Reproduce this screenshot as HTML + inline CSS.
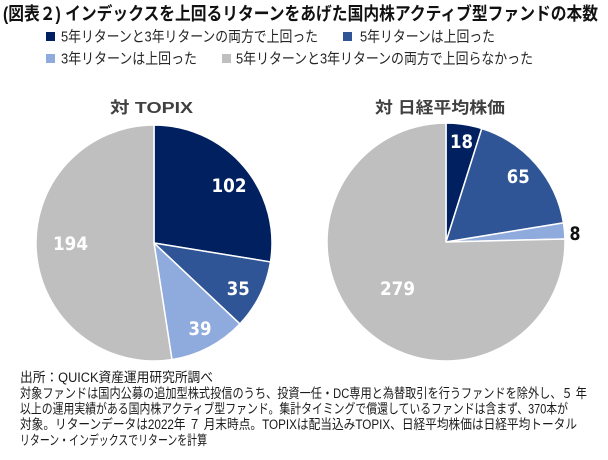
<!DOCTYPE html>
<html>
<head>
<meta charset="utf-8">
<style>
  html, body { margin:0; padding:0; background:#ffffff; }
  body { width:608px; height:460px; overflow:hidden; }
  svg { display:block; }
  .jp { font-family: "Liberation Sans", "Noto Sans CJK JP", sans-serif; }
</style>
</head>
<body>
<svg width="608" height="460" viewBox="0 0 608 460" xmlns="http://www.w3.org/2000/svg">
  <rect x="0" y="0" width="608" height="460" fill="#ffffff"/>

  <!-- Title -->
  <text class="jp" x="3" y="20" font-size="18" font-weight="bold" fill="#111111" textLength="595" lengthAdjust="spacingAndGlyphs">(図表２) インデックスを上回るリターンをあげた国内株アクティブ型ファンドの本数</text>

  <!-- Legend -->
  <rect x="46" y="32" width="9" height="9" fill="#002060"/>
  <text class="jp" x="61" y="41.5" font-size="15" fill="#262626" textLength="257" lengthAdjust="spacingAndGlyphs">5年リターンと3年リターンの両方で上回った</text>
  <rect x="343" y="32" width="9" height="9" fill="#2F5597"/>
  <text class="jp" x="360" y="41.5" font-size="15" fill="#262626" textLength="135" lengthAdjust="spacingAndGlyphs">5年リターンは上回った</text>

  <rect x="46" y="54" width="9" height="9" fill="#8FAADC"/>
  <text class="jp" x="61" y="63.5" font-size="15" fill="#262626" textLength="136" lengthAdjust="spacingAndGlyphs">3年リターンは上回った</text>
  <rect x="222" y="54" width="9" height="9" fill="#BFBFBF"/>
  <text class="jp" x="236" y="63.5" font-size="15" fill="#262626" textLength="297" lengthAdjust="spacingAndGlyphs">5年リターンと3年リターンの両方で上回らなかった</text>

  <!-- Subtitles -->
  <text class="jp" x="110" y="113" font-size="16" font-weight="bold" fill="#404040" textLength="83" lengthAdjust="spacingAndGlyphs">対 TOPIX</text>
  <text class="jp" x="375" y="113" font-size="16" font-weight="bold" fill="#404040" textLength="130" lengthAdjust="spacingAndGlyphs">対 日経平均株価</text>

  <!-- Left pie -->
  <g stroke="#ffffff" stroke-width="1.5" stroke-linejoin="round">
    <path d="M154,243 L154,125 A118,118 0 0 1 270.47,261.94 Z" fill="#002060"/>
    <path d="M154,243 L270.47,261.94 A118,118 0 0 1 239.88,323.93 Z" fill="#2F5597"/>
    <path d="M154,243 L239.88,323.93 A118,118 0 0 1 171.97,359.62 Z" fill="#8FAADC"/>
    <path d="M154,243 L171.97,359.62 A118,118 0 1 1 154,125 Z" fill="#BFBFBF"/>
  </g>

  <!-- Right pie -->
  <g stroke="#ffffff" stroke-width="1.5" stroke-linejoin="round">
    <path d="M446,242 L446,123 A119,119 0 0 1 481.80,128.51 Z" fill="#002060"/>
    <path d="M446,242 L481.80,128.51 A119,119 0 0 1 563.46,222.89 Z" fill="#2F5597"/>
    <path d="M446,242 L563.46,222.89 A119,119 0 0 1 564.96,238.97 Z" fill="#8FAADC"/>
    <path d="M446,242 L564.96,238.97 A119,119 0 1 1 446,123 Z" fill="#BFBFBF"/>
  </g>

  <!-- Data labels -->
  <g font-family="'DejaVu Sans', 'Liberation Sans', sans-serif" font-weight="bold" font-size="19" text-anchor="middle">
    <text x="229" y="192" fill="#ffffff" textLength="35" lengthAdjust="spacingAndGlyphs">102</text>
    <text x="238.3" y="295" fill="#ffffff" textLength="23" lengthAdjust="spacingAndGlyphs">35</text>
    <text x="200" y="335" fill="#ffffff" textLength="23" lengthAdjust="spacingAndGlyphs">39</text>
    <text x="70.5" y="250" fill="#ffffff" textLength="35" lengthAdjust="spacingAndGlyphs">194</text>

    <text x="461.5" y="148" fill="#ffffff" textLength="23" lengthAdjust="spacingAndGlyphs">18</text>
    <text x="518.3" y="183" fill="#ffffff" textLength="23" lengthAdjust="spacingAndGlyphs">65</text>
    <text x="575" y="240" fill="#111111" textLength="11" lengthAdjust="spacingAndGlyphs">8</text>
    <text x="397.5" y="295" fill="#ffffff" textLength="35" lengthAdjust="spacingAndGlyphs">279</text>
  </g>

  <!-- Footnotes -->
  <g class="jp" font-size="13.5" fill="#1a1a1a">
    <text x="20" y="382" textLength="193" lengthAdjust="spacingAndGlyphs">出所：QUICK資産運用研究所調べ</text>
    <text x="20" y="398" textLength="567" lengthAdjust="spacingAndGlyphs">対象ファンドは国内公募の追加型株式投信のうち、投資一任・DC専用と為替取引を行うファンドを除外し、５ 年</text>
    <text x="20" y="413.5" textLength="548" lengthAdjust="spacingAndGlyphs">以上の運用実績がある国内株アクティブ型ファンド。集計タイミングで償還しているファンドは含まず、370本が</text>
    <text x="20" y="429" textLength="557" lengthAdjust="spacingAndGlyphs">対象。リターンデータは2022年 ７ 月末時点。TOPIXは配当込みTOPIX、日経平均株価は日経平均トータル</text>
    <text x="20" y="445" textLength="187" lengthAdjust="spacingAndGlyphs">リターン・インデックスでリターンを計算</text>
  </g>
</svg>
</body>
</html>
